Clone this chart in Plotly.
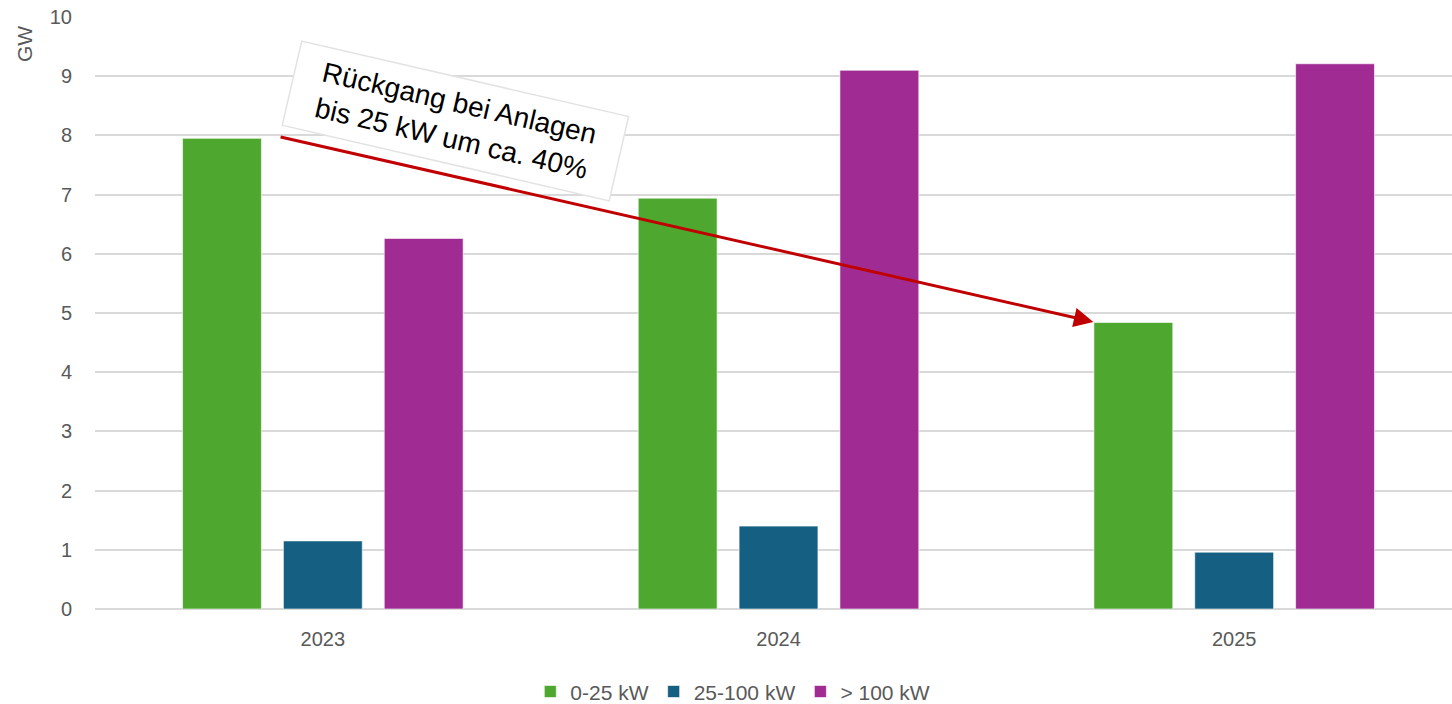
import plotly.graph_objects as go

years = ["2023", "2024", "2025"]
series_names = ["0-25 kW", "25-100 kW", "> 100 kW"]
small = [7.95, 6.94, 4.84]
medium = [1.15, 1.40, 0.96]
large = [6.26, 9.10, 9.21]
colors = ["#4EA72E", "#156082", "#A02B93"]
y_ticks = list(range(0, 11))
annotation_text = "Rückgang bei Anlagen<br>bis 25 kW um ca. 40%"

fig = go.Figure()
for name, vals, col in zip(series_names, [small, medium, large], colors):
    fig.add_trace(go.Bar(
        x=years, y=vals, name=name,
        marker=dict(color=col, line=dict(color="rgba(255,255,255,0.6)", width=1)),
    ))

font_family = "Liberation Sans, Arial, sans-serif"
tick_color = "#595959"

fig.update_layout(
    width=1452, height=704,
    margin=dict(l=95, r=0, t=17, b=95, autoexpand=False),
    paper_bgcolor="white", plot_bgcolor="white",
    barmode="group", bargap=0.336, bargroupgap=0.218,
    font=dict(family=font_family, color=tick_color, size=20),
    showlegend=True,
    legend=dict(orientation="h", xref="paper", yref="paper",
                x=0.470, xanchor="center", y=-0.14, yanchor="middle",
                font=dict(size=21, color=tick_color),
                itemwidth=30, traceorder="normal"),
    xaxis=dict(type="category", range=[-0.5, 2.478], showgrid=False,
               showline=False, ticks="", ticklabelstandoff=16,
               tickfont=dict(size=20, color=tick_color)),
    yaxis=dict(range=[0, 10], tickvals=y_ticks, showgrid=True,
               gridcolor="#d9d9d9", gridwidth=2, zeroline=True,
               zerolinecolor="#d9d9d9", zerolinewidth=2, showline=False,
               ticks="", ticklabelstandoff=22,
               tickfont=dict(size=20, color=tick_color)),
)

fig.add_annotation(
    text="GW", textangle=-90, xref="paper", yref="paper",
    x=-0.052, y=0.955, xanchor="center", yanchor="middle", showarrow=False,
    font=dict(size=21, color=tick_color, family=font_family),
)

# arrow
fig.add_annotation(
    x=1.691, y=4.85, ax=-0.096, ay=7.98, xref="x", yref="y", axref="x", ayref="y",
    text="", showarrow=True, arrowhead=2, arrowsize=1.3, arrowwidth=3,
    arrowcolor="#C00000", standoff=0,
)

# text box
fig.add_annotation(
    text=annotation_text, x=0.292, y=8.25, xref="x", yref="y",
    xanchor="center", yanchor="middle", showarrow=False, textangle=13,
    font=dict(size=28, color="black", family=font_family),
    bgcolor="white", bordercolor="#e3e3e3", borderwidth=1.5, borderpad=6,
    width=322, height=73, align="center",
)

fig.write_html("out.html")
